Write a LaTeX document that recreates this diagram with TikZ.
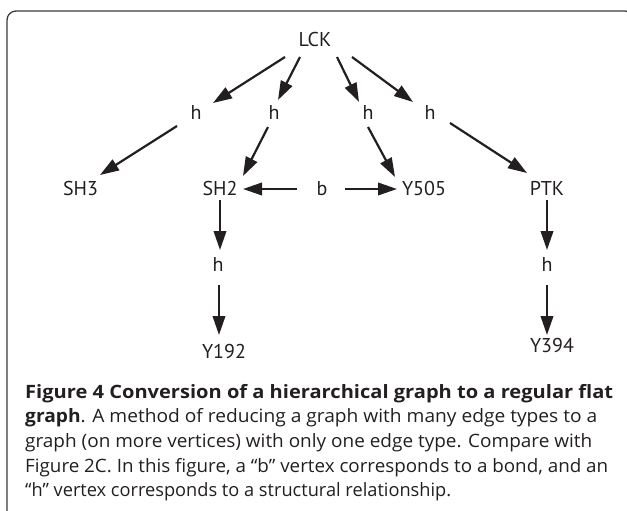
\documentclass[tikz,border=0pt]{standalone}
\usepackage{fontspec}
\usepackage{graphicx}
\setmainfont{PT Sans}
\newfontfamily\capfont{Open Sans}
\usetikzlibrary{arrows.meta,calc}
\definecolor{ink}{HTML}{231F20}
\definecolor{framec}{HTML}{3A3A3A}
\newcommand{\capline}[2]{\resizebox{#1pt}{\height}{#2}}
\begin{document}
\begin{tikzpicture}[x=1pt,y=-1pt,
  lbl/.style={anchor=base,inner sep=0pt,text=ink,font=\fontsize{20}{24}\selectfont},
  captxt/.style={anchor=base west,inner sep=0pt,text=ink,font=\capfont\fontsize{18.4}{24.7}\selectfont},
  arr/.style={draw=ink,line width=2.2pt,-{Triangle[length=19pt,width=12.5pt]}}]
\useasboundingbox (0,0) rectangle (627,511);
\clip (0,0) rectangle (627,511);
\draw[framec,line width=1.3pt,rounded corners=9pt] (7,11) rectangle (634,530);
% nodes
\node[lbl] (lck) at (315,46.7) {LCK};
\node[lbl] (h1) at (196,120) {h};
\node[lbl] (h2) at (274,120) {h};
\node[lbl] (h3) at (368,120) {h};
\node[lbl] (h4) at (430,120) {h};
\node[lbl] (sh3) at (80.5,195) {SH3};
\node[lbl] (sh2) at (220,195) {SH2};
\node[lbl] (b) at (322,195) {b};
\node[lbl] (y505) at (424,195) {Y505};
\node[lbl] (ptk) at (547,195) {PTK};
\node[lbl] (h5) at (218,271) {h};
\node[lbl] (h6) at (547,271) {h};
\node[lbl] (y192) at (224,358) {Y192};
\node[lbl] (y394) at (552,352) {Y394};
% arrows
\draw[arr] ($(lck.base)+(-30,10.3)$) -- ($(h1.base)+(17,-17)$);
\draw[arr] ($(lck.base)+(-15,10.3)$) -- ($(h2.base)+(4,-20)$);
\draw[arr] ($(lck.base)+(22,10.3)$) -- ($(h3.base)+(-9,-18)$);
\draw[arr] ($(lck.base)+(37,10.3)$) -- ($(h4.base)+(-17,-18)$);
\draw[arr] ($(h1.base)+(-19,6)$) -- ($(sh3.base)+(19.5,-20)$);
\draw[arr] ($(h2.base)+(-6,7)$) -- ($(sh2.base)+(23,-19)$);
\draw[arr] ($(h3.base)+(0,7)$) -- ($(y505.base)+(-29,-18)$);
\draw[arr] ($(h4.base)+(20,3)$) -- ($(ptk.base)+(-20,-22)$);
\draw[arr] ($(b.base)+(-25,-6)$) -- ($(sh2.base)+(23,-6)$);
\draw[arr] ($(b.base)+(23,-6)$) -- ($(y505.base)+(-27,-6)$);
\draw[arr] ($(sh2.base)+(0,5)$) -- ($(h5.base)+(2,-21)$);
\draw[arr] ($(h5.base)+(1,14)$) -- ($(y192.base)+(-5,-23)$);
\draw[arr] ($(ptk.base)+(0,5)$) -- ($(h6.base)+(0,-21)$);
\draw[arr] ($(h6.base)+(0,14)$) -- ($(y394.base)+(-5,-17)$);
% caption
\node[captxt] (c1) at (25,398) {\capline{588}{\textbf{Figure 4 Conversion of a hierarchical graph to a regular flat}}};
\node[captxt] (c2) at (25,422.7) {\capline{572}{\textbf{graph}. A method of reducing a graph with many edge types to a}};
\node[captxt] (c3) at (25,447.4) {\capline{567}{graph (on more vertices) with only one edge type. Compare with}};
\node[captxt] (c4) at (25,472.1) {\capline{583}{Figure 2C. In this figure, a “b” vertex corresponds to a bond, and an}};
\node[captxt] (c5) at (25,496.8) {\capline{426}{“h” vertex corresponds to a structural relationship.}};
\end{tikzpicture}
\end{document}
